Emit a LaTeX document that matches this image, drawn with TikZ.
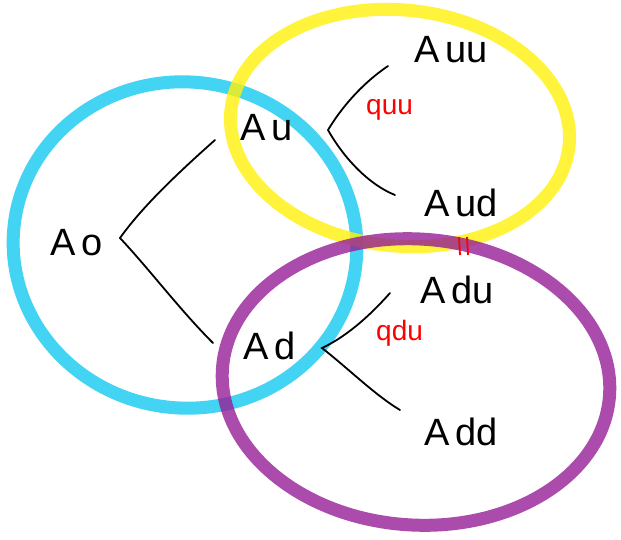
\documentclass[tikz,border=0pt]{standalone}
\usepackage{fontspec}
\setmainfont{Liberation Sans}
\begin{document}
\begin{tikzpicture}[x=1pt,y=-1pt,
  lbl/.style={font=\fontsize{38}{40}\selectfont, inner sep=0pt, anchor=west},
  qlbl/.style={font=\fontsize{28}{30}\selectfont, text=red, inner sep=0pt, anchor=west},
  branch/.style={line width=1.8pt, black, line cap=round},
  ring/.style={line width=13pt, opacity=0.8}]
\useasboundingbox (0,0) rectangle (621,539);
\definecolor{cyanpen}{RGB}{20,200,240}
\definecolor{yellowpen}{RGB}{255,240,10}
\definecolor{purplepen}{RGB}{150,30,150}
% ellipses
\draw[ring, draw=cyanpen, rotate around={-8:(185,245)}] (185,245) ellipse [x radius=172, y radius=163];
\draw[ring, draw=yellowpen, rotate around={-6:(400,128)}] (400,128) ellipse [x radius=170, y radius=118];
\draw[ring, draw=purplepen, rotate around={-4:(416,382)}] (416,382) ellipse [x radius=194, y radius=143];
% labels
\node[lbl] (a0) at (50,243) {A\,o};
\node[lbl] (au) at (240,128) {A\,u};
\node[lbl] (ad) at (243,346) {A\,d};
\node[lbl] (auu) at (414,50) {A\,uu};
\node[lbl] (aud) at (424,203) {A\,ud};
\node[lbl] (adu) at (420,290) {A\,du};
\node[lbl] (add) at (424,432) {A\,dd};
\node[qlbl] (quu) at (366,110) {quu};
\node[qlbl] (qdu) at (376,333) {qdu};
% branch points
\coordinate (v0) at (120,238);
\coordinate (v0u) at (215,140);
\coordinate (v0d) at (213,343);
\coordinate (vu) at (328,130);
\coordinate (vuu) at (388,66);
\coordinate (vud) at (395,195);
\coordinate (vd) at (322,348);
\coordinate (vdu) at (390,293);
\coordinate (vdd) at (400,410);
\draw[branch] (v0u) .. controls (170,180) and (140,210) .. (v0) .. controls (150,270) and (180,310) .. (v0d);
\draw[branch] (vuu) .. controls (360,85) and (340,110) .. (vu) .. controls (345,160) and (370,185) .. (vud);
\draw[branch] (vdu) .. controls (375,310) and (350,335) .. (vd) .. controls (350,370) and (375,395) .. (vdd);
% red mark
\coordinate (m1t) at (459,237);
\coordinate (m1b) at (460,255);
\coordinate (m2t) at (467,237);
\coordinate (m2b) at (468,255);
\draw[red, line width=1.8pt] (m1t) -- (m1b) (m2t) -- (m2b);
\end{tikzpicture}
\end{document}
